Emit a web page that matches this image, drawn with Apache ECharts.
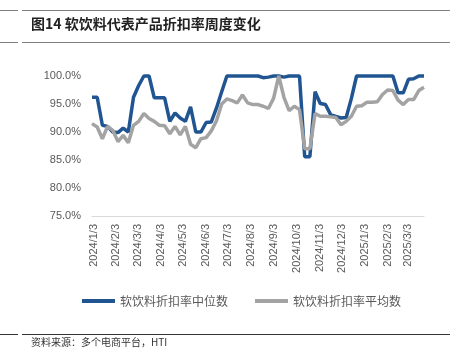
<!DOCTYPE html>
<html><head><meta charset="utf-8">
<script src="https://cdn.jsdelivr.net/npm/echarts@6/dist/echarts.min.js"></script>
<style>html,body{margin:0;padding:0;background:#fff}#c{width:454px;height:357px}</style>
</head><body><div id="c"></div>
<script>
const weeks = ['2024/1/1','2024/1/8','2024/1/15','2024/1/22','2024/1/29','2024/2/5','2024/2/12','2024/2/19','2024/2/26','2024/3/4','2024/3/11','2024/3/18','2024/3/25','2024/4/1','2024/4/8','2024/4/15','2024/4/22','2024/4/29','2024/5/6','2024/5/13','2024/5/20','2024/5/27','2024/6/3','2024/6/10','2024/6/17','2024/6/24','2024/7/1','2024/7/8','2024/7/15','2024/7/22','2024/7/29','2024/8/5','2024/8/12','2024/8/19','2024/8/26','2024/9/2','2024/9/9','2024/9/16','2024/9/23','2024/9/30','2024/10/7','2024/10/14','2024/10/21','2024/10/28','2024/11/4','2024/11/11','2024/11/18','2024/11/25','2024/12/2','2024/12/9','2024/12/16','2024/12/23','2024/12/30','2025/1/6','2025/1/13','2025/1/20','2025/1/27','2025/2/3','2025/2/10','2025/2/17','2025/2/24','2025/3/3','2025/3/10','2025/3/17','2025/3/24'];
const medianRate = [96.2,96.2,91.2,91.0,90.0,89.9,90.7,90.0,96.2,98.3,100,100,96.1,96.1,96.1,91.9,93.4,92.5,91.9,94.5,90.0,90.0,91.7,91.8,94.3,97.2,100,100,100,100,100,100,100,99.7,99.8,100,100,99.8,100,100,100,85.6,85.6,97.2,95.1,94.9,93.1,92.8,92.5,92.6,96.0,100,100,100,100,100,100,100,100,97.0,97.0,99.4,99.5,100,100];
const meanRate = [91.5,90.9,88.8,91.0,90.3,88.3,89.4,88.1,91.2,91.9,93.3,92.4,91.9,91.2,91.1,89.7,91.0,89.5,91.0,87.8,87.2,88.8,89.0,90.2,92.0,95.0,95.9,95.6,95.2,96.6,95.2,94.9,94.9,94.6,94.2,96.0,100,96.2,93.8,94.6,94.0,87.0,87.0,93.3,92.8,92.8,92.7,92.6,91.3,91.9,92.8,94.6,94.7,95.3,95.3,95.4,96.7,97.5,97.4,95.7,94.9,95.8,95.8,97.4,98.0];
const xTickLabels = ['2024/1/3','2024/2/3','2024/3/3','2024/4/3','2024/5/3','2024/6/3','2024/7/3','2024/8/3','2024/9/3','2024/10/3','2024/11/3','2024/12/3','2025/1/3','2025/2/3','2025/3/3'];
const seriesNames = ['软饮料折扣率中位数','软饮料折扣率平均数'];
const titleText = '图14 软饮料代表产品折扣率周度变化';
const sourceText = '资料来源：多个电商平台，HTI';

function toTs(s){const p=s.split('/').map(Number);return Date.UTC(p[0],p[1]-1,p[2]);}
const t0 = toTs(weeks[0]);
function toDay(s){return Math.round((toTs(s)-t0)/86400000);}
const labelByDay = {};
xTickLabels.forEach(s=>{labelByDay[toDay(s)] = s;});

const chart = echarts.init(document.getElementById('c'), null, {renderer:'canvas'});
const cjk = '"Noto Sans CJK SC", "Liberation Sans", sans-serif';
const rule = (y, color) => [
  {type:'line', shape:{x1:0,y1:y,x2:18,y2:y}, style:{stroke:color,lineWidth:1}},
  {type:'line', shape:{x1:22,y1:y,x2:450,y2:y}, style:{stroke:color,lineWidth:1}}
];
chart.setOption({
  animation:false,
  textStyle:{fontFamily:cjk},
  grid:{left:92,right:30,top:76,bottom:141,containLabel:false},
  xAxis:{type:'value', min:0, max:toDay(weeks[weeks.length-1]),
    axisLine:{lineStyle:{color:'#d9d9d9',width:1}}, axisTick:{show:false}, splitLine:{show:false},
    axisLabel:{customValues:xTickLabels.map(toDay), formatter:v=>labelByDay[Math.round(v)]||'', rotate:90, color:'#595959', fontSize:11, margin:8,
      fontFamily:'"Liberation Sans", sans-serif', hideOverlap:false, showMinLabel:true, showMaxLabel:true}},
  yAxis:{type:'value', min:75, max:100, interval:5,
    axisLine:{show:false}, axisTick:{show:false}, splitLine:{show:false},
    axisLabel:{formatter:v=>v.toFixed(1)+'%', color:'#595959', fontSize:11, margin:11, fontFamily:'"Liberation Sans", sans-serif'}},
  legend:{left:77, top:290, icon:'rect', itemWidth:33, itemHeight:4, itemGap:27,
    textStyle:{fontSize:12, color:'#595959', fontFamily:cjk}, data:seriesNames},
  series:[
    {name:seriesNames[0], type:'line', showSymbol:false, clip:false, color:'#215591',
      lineStyle:{width:3.5, color:'#215591'}, data:weeks.map((w,i)=>[toDay(w), medianRate[i]])},
    {name:seriesNames[1], type:'line', showSymbol:false, clip:false, color:'#a3a3a3',
      lineStyle:{width:3.5, color:'#a3a3a3'}, data:weeks.map((w,i)=>[toDay(w), meanRate[i]])}
  ],
  graphic:[].concat(rule(10.5,'#7f7f7f'), rule(42.5,'#7f7f7f'), rule(334.5,'#333'), [
    {type:'text', left:31, top:17, style:{text:titleText, font:'bold 14px '+cjk, fill:'#222'}},
    {type:'text', left:31, top:337, style:{text:sourceText, font:'10px '+cjk, fill:'#333'}}
  ])
});
</script></body></html>
